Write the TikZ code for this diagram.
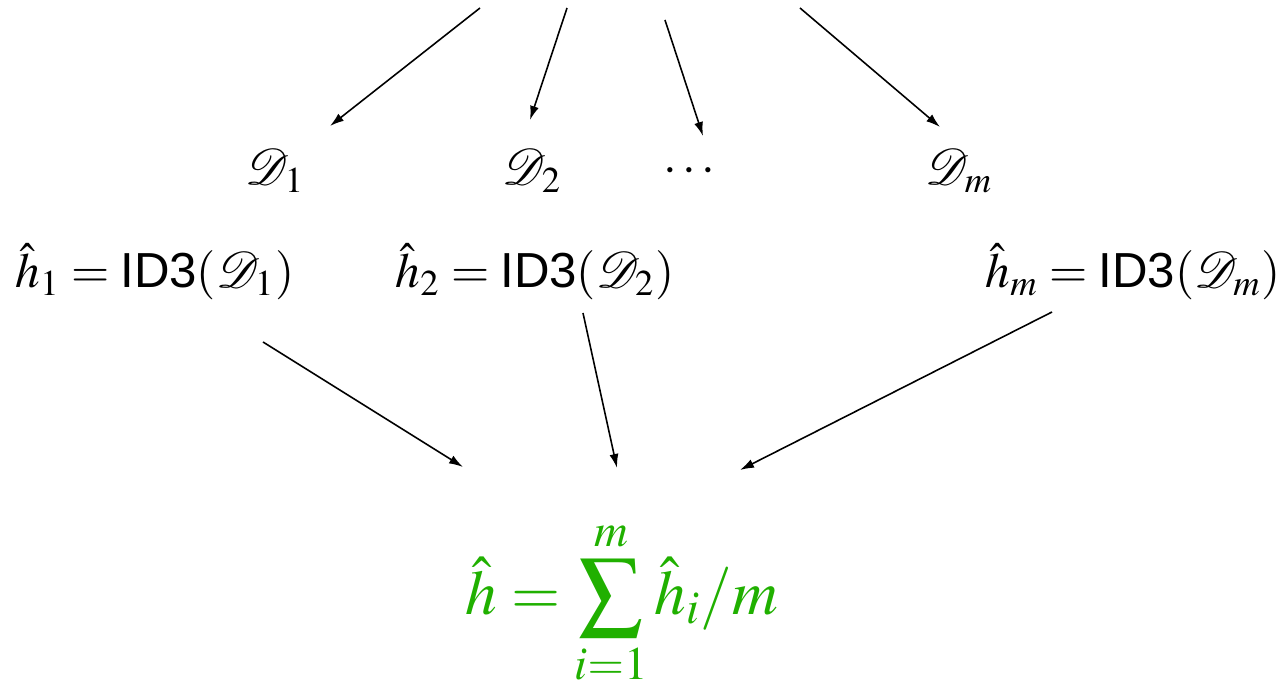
\documentclass[tikz,border=0pt]{standalone}
\usepackage{mathptmx}
\usepackage{mathrsfs}
\usepackage[no-math]{fontspec}
\setsansfont{Liberation Sans}
\usepackage{xcolor}
\usepackage{tikz}
\usetikzlibrary{arrows.meta}

\definecolor{sumgreen}{RGB}{32,176,0}

\begin{document}
\begin{tikzpicture}[
  x=0.1mm, y=-0.1mm,
  font=\fontsize{14}{17}\selectfont,
  lbl/.style   ={inner sep=0pt, anchor=base west},
  avg/.style   ={inner sep=0pt, text=sumgreen, font=\fontsize{18}{22}\selectfont},
  ar/.style    ={-{Latex[length=1.4mm, width=0.9mm]}, line width=0.45pt}
]
\useasboundingbox (0,0) rectangle (1279,687);

% free ends of the incoming arrows (cut at the top edge)
\coordinate (t1) at (480,8);
\coordinate (t2) at (567,8);
\coordinate (t3) at (665,20);
\coordinate (t4) at (800,8);

\node[lbl] (d1)   at (245,185) {$\mathscr{D}_1$};
\node[lbl] (d2)   at (502,185) {$\mathscr{D}_2$};
\node[lbl] (dots) at (663,183) {$\cdots$};
\node[lbl] (dm)   at (925,185) {$\mathscr{D}_m$};

\node[lbl] (h1) at (15,288)  {$\hat{h}_1 = \textsf{ID3}(\mathscr{D}_1)$};
\node[lbl] (h2) at (395,288) {$\hat{h}_2 = \textsf{ID3}(\mathscr{D}_2)$};
\node[lbl] (hm) at (985,288) {$\hat{h}_m = \textsf{ID3}(\mathscr{D}_m)$};

\node[avg] (avg) at (622,603)
  {$\displaystyle \hat{h} = \sum_{i=1}^{m} \hat{h}_i/m$};

\draw[ar] (t1) -- ([shift={(85,-59)}]d1.base west);
\draw[ar] (t2) -- ([shift={(28,-65)}]d2.base west);
\draw[ar] (t3) -- ([shift={(40,-47)}]dots.base west);
\draw[ar] (t4) -- ([shift={(15,-58)}]dm.base west);

\draw[ar] ([shift={(248,54)}]h1.base west) -- ([shift={(-159,-136)}]avg.center);
\draw[ar] ([shift={(188,25)}]h2.base west) -- ([shift={(-5,-135)}]avg.center);
\draw[ar] ([shift={(67,24)}]hm.base west)  -- ([shift={(118,-133)}]avg.center);

\end{tikzpicture}
\end{document}
